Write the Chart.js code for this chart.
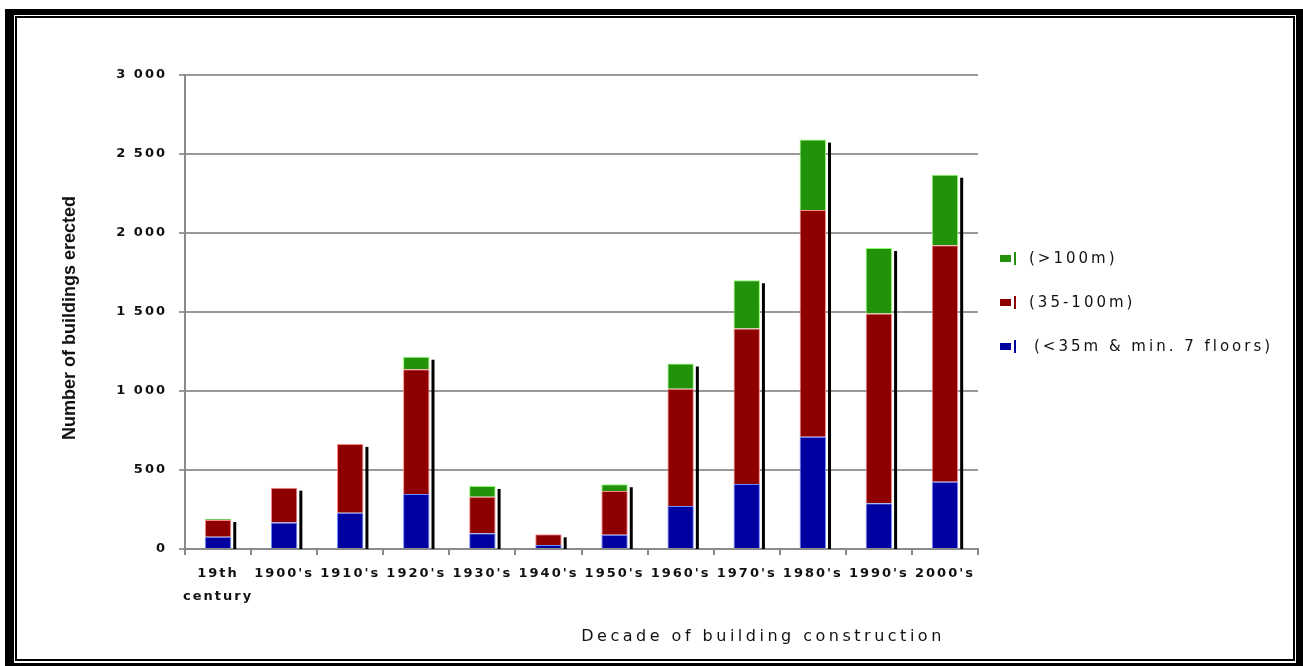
<!DOCTYPE html>
<html>
<head>
<meta charset="utf-8">
<title>Buildings erected by decade</title>
<script src="https://cdn.jsdelivr.net/npm/chart.js@4.4.1/dist/chart.umd.min.js"></script>
<style>
  html, body { margin: 0; padding: 0; background: #fff; }
  .wrap { position: relative; width: 1303px; height: 666px; overflow: hidden; background: #fff; }
  #chart { position: absolute; left: 0; top: 0; }
  /* double black frame */
  .frame-outer { position: absolute; left: 5px; top: 9px; right: 0; bottom: 0; border: solid #000; border-width: 6px 7px 3px 9px; pointer-events: none; }
  .frame-inner { position: absolute; left: 15px; top: 16px; right: 8px; bottom: 5px; border: 2px solid #000; pointer-events: none; }
  #legend { position: absolute; left: 1000px; top: 236px; font: 15px "DejaVu Sans", sans-serif; letter-spacing: 3px; color: #111; }
  .legend-item { display: flex; align-items: center; height: 44px; white-space: nowrap; }
  .legend-box { width: 11px; height: 7px; }
  .legend-bar { width: 2px; height: 13px; margin-left: 3px; margin-right: 13px; }
</style>
</head>
<body>
<div class="wrap">
  <canvas id="chart" width="1303" height="666"></canvas>
  <div id="legend"></div>
  <div class="frame-outer"></div>
  <div class="frame-inner"></div>
</div>
<script>
/* ── Data ─────────────────────────────────────────────── */
const decades = [['19th', 'century'], "1900's", "1910's", "1920's", "1930's", "1940's",
                 "1950's", "1960's", "1970's", "1980's", "1990's", "2000's"];

const lowRise  = [78, 168, 230, 348, 100, 25, 90, 272, 411, 711, 289, 426];      // <35m & min. 7 floors
const midRise  = [106, 220, 435, 789, 231, 68, 277, 743, 985, 1435, 1201, 1496]; // 35-100m
const highRise = [6, 0, 0, 80, 68, 0, 43, 159, 305, 445, 415, 447];              // >100m

const seriesLabels = ['(<35m & min. 7 floors)', '(35-100m)', '(>100m)'];
const seriesColors = ['#0000a0', '#8e0000', '#21920a'];
const seriesEdges  = ['#6f8cff', '#ff8a8a', '#8cff6a'];

const yMax  = 3000;
const yStep = 500;

/* ── Helpers ──────────────────────────────────────────── */
const spaced = v => String(v).replace(/\B(?=(\d{3})+(?!\d))/g, ' ');

// black drop shadow to the right of each stacked column
const barShadow = {
  id: 'barShadow',
  afterDatasetsDraw(chart) {
    const { ctx } = chart;
    const base = chart.scales.y.getPixelForValue(0);
    const topMeta = chart.getDatasetMeta(chart.data.datasets.length - 1);
    ctx.save();
    ctx.fillStyle = '#000';
    topMeta.data.forEach(bar => {
      const right = bar.x + bar.width / 2;
      ctx.fillRect(right + 2, bar.y + 3, 3, base - bar.y - 3);
    });
    ctx.restore();
  }
};

// wide tracking on tick labels, then plain axis titles on top
const axisText = {
  id: 'axisText',
  beforeDraw(chart) {
    chart.ctx.letterSpacing = '2px';
  },
  afterDraw(chart) {
    const { ctx, chartArea } = chart;
    ctx.save();
    ctx.fillStyle = '#111';
    ctx.textAlign = 'center';
    ctx.textBaseline = 'middle';

    ctx.letterSpacing = '0px';
    ctx.font = 'bold 18px "Liberation Sans", Arial, sans-serif';
    ctx.save();
    ctx.translate(chartArea.left - 115, (chartArea.top + chartArea.bottom) / 2 + 6);
    ctx.rotate(-Math.PI / 2);
    ctx.fillText('Number of buildings erected', 0, 0);
    ctx.restore();

    ctx.letterSpacing = '3.5px';
    ctx.font = '16px "DejaVu Sans", sans-serif';
    ctx.fillText('Decade of building construction', 763, chartArea.bottom + 88);
    ctx.restore();
  }
};

/* ── Chart ────────────────────────────────────────────── */
const rows = [lowRise, midRise, highRise];

const chart = new Chart(document.getElementById('chart'), {
  type: 'bar',
  data: {
    labels: decades,
    datasets: rows.map((values, i) => ({
      label: seriesLabels[i],
      data: values,
      backgroundColor: seriesColors[i],
      borderColor: seriesEdges[i],
      borderWidth: 1,
      borderSkipped: 'bottom',
      barPercentage: 0.4,
      categoryPercentage: 1
    }))
  },
  options: {
    responsive: false,
    animation: false,
    layout: { padding: { left: 20, right: 325, top: 75, bottom: 10 } },
    plugins: {
      legend: { display: false },
      tooltip: { enabled: false }
    },
    scales: {
      x: {
        stacked: true,
        afterFit: s => { s.height = 107; },
        grid: { drawOnChartArea: false, drawTicks: true, tickLength: 6, color: '#888', lineWidth: 2 },
        border: { color: '#8a8a8a', width: 2 },
        ticks: {
          autoSkip: false, maxRotation: 0, minRotation: 0, padding: 7,
          color: '#111',
          font: { family: '"DejaVu Sans", sans-serif', size: 13, weight: 'bold', lineHeight: 1.75 }
        }
      },
      y: {
        stacked: true,
        min: 0,
        max: yMax,
        afterFit: s => { s.width = 165; },
        grid: { color: '#999', lineWidth: 2, tickLength: 6 },
        border: { color: '#8a8a8a', width: 2 },
        ticks: {
          stepSize: yStep, padding: 12,
          color: '#111',
          font: { family: '"DejaVu Sans", sans-serif', size: 13, weight: 'bold' },
          callback: v => spaced(v)
        }
      }
    }
  },
  plugins: [barShadow, axisText]
});

/* ── Legend (top series first) ────────────────────────── */
document.getElementById('legend').innerHTML = seriesLabels.map((l, i) => `
  <div class="legend-item">
    <span class="legend-box" style="background:${seriesColors[i]}"></span>
    <span class="legend-bar" style="background:${seriesColors[i]}"></span>
    <span${i === 0 ? ' style="margin-left:5px"' : ''}>${l}</span>
  </div>`).reverse().join('');
</script>
</body>
</html>
